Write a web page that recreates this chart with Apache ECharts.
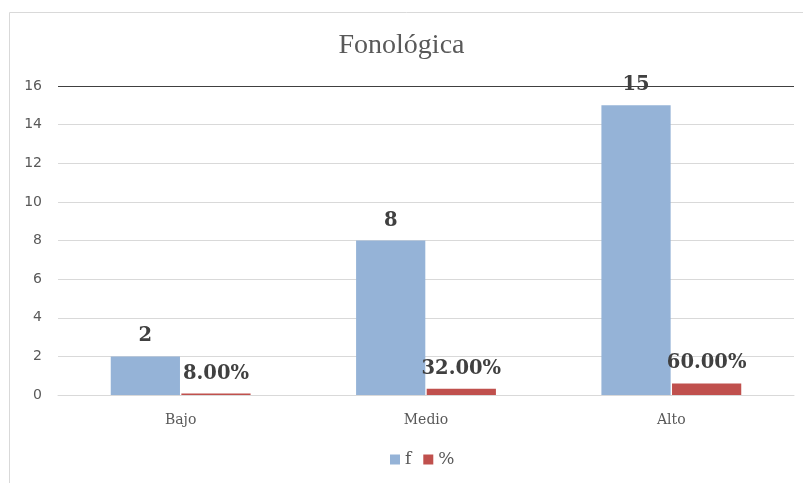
<!DOCTYPE html>
<html>
<head>
<meta charset="utf-8">
<script src="https://cdn.jsdelivr.net/npm/echarts@6/dist/echarts.min.js"></script>
<style>html,body{margin:0;padding:0;background:#fff}#c{width:803px;height:483px}</style>
</head>
<body>
<div id="c"></div>
<script>
const categories = ['Bajo', 'Medio', 'Alto'];
const fValues = [2, 8, 15];
const pctValues = [0.08, 0.32, 0.60];
const yTicks = [0, 2, 4, 6, 8, 10, 12, 14, 16];

const chart = echarts.init(document.getElementById('c'));
const labelStyle = {
  show: true, position: 'top', distance: 10,
  fontFamily: 'DejaVu Serif', fontWeight: 'bold', fontSize: 19.5, color: '#404040'
};
const gridColors = yTicks.map((t, i) => i === yTicks.length - 1 ? '#404040' : '#d9d9d9');
chart.setOption({
  animation: false,
  title: {
    text: 'Fonológica', left: 'center', top: 27,
    textStyle: { fontFamily: 'Liberation Serif', fontWeight: 'normal', fontSize: 28, color: '#595959' }
  },
  graphic: [{
    type: 'rect', shape: { x: 9.5, y: 12.5, width: 820, height: 500 },
    style: { fill: 'none', stroke: '#d9d9d9', lineWidth: 1 }, silent: true
  }],
  grid: { left: 58, right: 9, top: 86, bottom: 88 },
  legend: {
    data: ['f', '%'], bottom: 10, left: 385, itemWidth: 10, itemHeight: 10, itemGap: 12,
    icon: 'rect',
    textStyle: { fontFamily: 'DejaVu Serif', fontSize: 17, color: '#595959' }
  },
  xAxis: {
    type: 'category', data: categories,
    axisLine: { lineStyle: { color: '#d9d9d9' } },
    axisTick: { show: false },
    axisLabel: { fontFamily: 'DejaVu Serif', fontSize: 14, color: '#595959', margin: 18 }
  },
  yAxis: {
    type: 'value', min: yTicks[0], max: yTicks[yTicks.length - 1], interval: 2,
    axisLine: { show: false }, axisTick: { show: false },
    axisLabel: { fontFamily: 'DejaVu Sans', fontSize: 14, color: '#595959', margin: 16 },
    splitLine: { lineStyle: { color: gridColors, width: 1 } }
  },
  series: [
    {
      name: 'f', type: 'bar', data: fValues, barCategoryGap: '43%', barGap: '2%',
      itemStyle: { color: '#95b3d7' }, label: labelStyle
    },
    {
      name: '%', type: 'bar', data: pctValues,
      itemStyle: { color: '#c0504d' },
      label: Object.assign({}, labelStyle, { formatter: p => (p.value * 100).toFixed(2) + '%' })
    }
  ]
});
</script>
</body>
</html>
